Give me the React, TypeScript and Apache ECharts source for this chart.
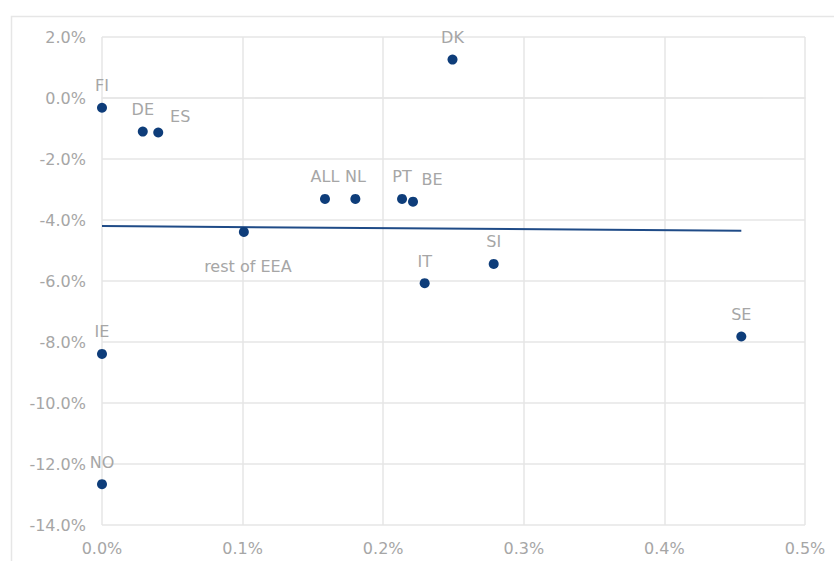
import React, { useEffect, useRef } from "react";
import * as echarts from "echarts";

// Data (values in %)
const countries = ["FI", "DE", "ES", "ALL", "NL", "PT", "BE", "rest of EEA", "DK", "IT", "SI", "SE", "IE", "NO"];
const xValues = [0.0, 0.029, 0.040, 0.1586, 0.1802, 0.2134, 0.2212, 0.1009, 0.2493, 0.2295, 0.2786, 0.4547, 0.0, 0.0];
const yValues = [-0.32, -1.10, -1.13, -3.31, -3.31, -3.31, -3.40, -4.39, 1.26, -6.07, -5.44, -7.82, -8.39, -12.66];

// Trend line end points
const trendX = [0.0, 0.4547];
const trendY = [-4.2, -4.35];

// Axis ticks
const xTicks = { min: 0, max: 0.5, interval: 0.1 };
const yTicks = { min: -14, max: 2, interval: 2 };

// Label placement (style only)
const labelOffsets: Record<string, [number, number]> = {
  ES: [22, -16],
  BE: [19, -22],
  "rest of EEA": [4, 35],
};

const FONT = "'DejaVu Sans', Verdana, sans-serif";
const LABEL_COLOR = "#a6a6a6";
const GRID_COLOR = "#e6e6e6";
const DOT_COLOR = "#0e3d7a";

export default function App() {
  const ref = useRef<HTMLDivElement>(null);

  useEffect(() => {
    if (!ref.current) return;
    const chart = echarts.init(ref.current, undefined, { renderer: "svg" });

    const points = countries.map((name, i) => ({
      name,
      value: [xValues[i], yValues[i]],
      label: { offset: labelOffsets[name] || [0, -22] },
    }));

    const trend = trendX.map((x, i) => [x, trendY[i]]);

    chart.setOption({
      animation: false,
      backgroundColor: "#ffffff",
      grid: { left: 102, right: 29, top: 37, bottom: 36, containLabel: false },
      graphic: [
        {
          type: "rect",
          silent: true,
          shape: { x: 11.5, y: 16.5, width: 900, height: 700 },
          style: { fill: "none", stroke: GRID_COLOR, lineWidth: 1.5 },
        },
      ],
      xAxis: {
        type: "value",
        min: xTicks.min,
        max: xTicks.max,
        interval: xTicks.interval,
        axisLine: { show: true, lineStyle: { color: GRID_COLOR, width: 1.5 } },
        axisTick: { show: false },
        splitLine: { show: true, lineStyle: { color: GRID_COLOR, width: 1.5 } },
        axisLabel: {
          margin: 15,
          color: LABEL_COLOR,
          fontFamily: FONT,
          fontSize: 16,
          formatter: (v: number) => v.toFixed(1) + "%",
        },
      },
      yAxis: {
        type: "value",
        min: yTicks.min,
        max: yTicks.max,
        interval: yTicks.interval,
        axisLine: { show: false },
        axisTick: { show: false },
        splitLine: { show: true, lineStyle: { color: GRID_COLOR, width: 1.5 } },
        axisLabel: {
          margin: 16,
          color: LABEL_COLOR,
          fontFamily: FONT,
          fontSize: 16,
          formatter: (v: number) => v.toFixed(1) + "%",
        },
      },
      series: [
        {
          type: "line",
          data: trend,
          symbol: "none",
          lineStyle: { color: "#1f4b87", width: 2 },
          silent: true,
          z: 1,
        },
        {
          type: "scatter",
          data: points,
          symbolSize: 10,
          itemStyle: { color: DOT_COLOR, opacity: 1 },
          z: 2,
          label: {
            show: true,
            position: "inside",
            formatter: (p: any) => p.name,
            color: LABEL_COLOR,
            fontFamily: FONT,
            fontSize: 16,
          },
        },
      ],
    });

    return () => chart.dispose();
  }, []);

  return (
    <div
      ref={ref}
      style={{ position: "fixed", left: 0, top: 0, width: 834, height: 561, background: "#fff" }}
    />
  );
}
